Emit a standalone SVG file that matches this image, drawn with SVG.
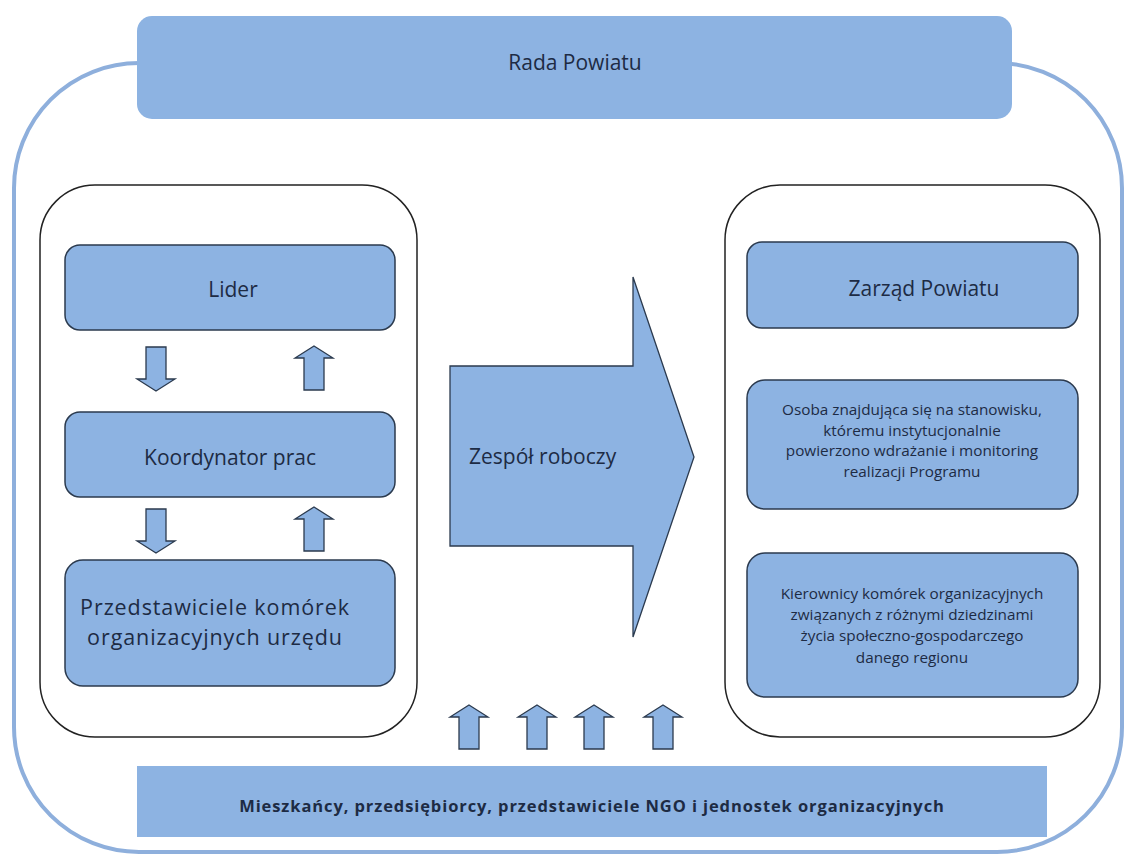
<svg xmlns="http://www.w3.org/2000/svg" width="1126" height="854" viewBox="0 0 1126 854">
  <style>
    .box { fill: #8db3e2; stroke: #2b3a4e; stroke-width: 1.5; }
    .flat { fill: #8db3e2; stroke: none; }
    .cont { fill: #ffffff; stroke: #222222; stroke-width: 1.5; }
    .outer { fill: none; stroke: #8eafdc; stroke-width: 4; }
    .arr { fill: #8db3e2; stroke: #2b3a4e; stroke-width: 1.3; stroke-linejoin: miter; }
    text { font-family: "Open Sans", "Liberation Sans", sans-serif; fill: #1d2b44; text-anchor: middle; }
    .big { font-size: 21px; }
    .przed { font-size: 21.5px; letter-spacing: 0.9px; }
    .mid { font-size: 21px; }
    .small { font-size: 15.3px; }
    .bold { font-size: 16.5px; font-weight: bold; letter-spacing: 0.9px; }
  </style>
  <defs>
    <path id="up" d="M0,0 L19,12 L10,12 L10,44 L-10,44 L-10,12 L-19,12 Z"/>
  </defs>
  <rect width="1126" height="854" fill="#ffffff"/>

  <g id="outer-frame">
    <rect class="outer" x="14" y="63" width="1108" height="789" rx="125" ry="125"/>
  </g>

  <g id="rada">
    <rect class="flat" x="137" y="16" width="875" height="103" rx="15"/>
    <text class="mid" x="575" y="70">Rada Powiatu</text>
  </g>

  <g id="left-container">
    <rect class="cont" x="40" y="185" width="377" height="552" rx="55"/>
  </g>

  <g id="lider">
    <rect class="box" x="65" y="245" width="330" height="85" rx="15"/>
    <text class="big" x="233" y="297">Lider</text>
  </g>

  <g id="koordynator">
    <rect class="box" x="65" y="412" width="330" height="85" rx="15"/>
    <text class="big" x="230" y="465">Koordynator prac</text>
  </g>

  <g id="przedstawiciele">
    <rect class="box" x="65" y="560" width="330" height="126" rx="18"/>
    <text class="przed"><tspan x="215" y="615">Przedstawiciele komórek</tspan><tspan x="215" y="645">organizacyjnych urzędu</tspan></text>
  </g>

  <g id="zespol">
    <polygon class="arr" points="450,366 633,366 633,277 694,457 633,637 633,546 450,546"/>
    <text class="big" x="469" y="464" style="text-anchor:start">Zespół roboczy</text>
  </g>

  <g id="right-container">
    <rect class="cont" x="725" y="185" width="375" height="552" rx="55"/>
  </g>

  <g id="zarzad">
    <rect class="box" x="747" y="242" width="331" height="86" rx="15"/>
    <text class="mid" x="924" y="296">Zarząd Powiatu</text>
  </g>

  <g id="osoba">
    <rect class="box" x="747" y="380" width="331" height="129" rx="18"/>
    <text class="small"><tspan x="912" y="415">Osoba znajdująca się na stanowisku,</tspan><tspan x="912" y="436">któremu instytucjonalnie</tspan><tspan x="912" y="456">powierzono wdrażanie i monitoring</tspan><tspan x="912" y="477">realizacji Programu</tspan></text>
  </g>

  <g id="kierownicy">
    <rect class="box" x="747" y="553" width="331" height="144" rx="18"/>
    <text class="small"><tspan x="912" y="599">Kierownicy komórek organizacyjnych</tspan><tspan x="912" y="620">związanych z różnymi dziedzinami</tspan><tspan x="912" y="641">życia społeczno-gospodarczego</tspan><tspan x="912" y="663">danego regionu</tspan></text>
  </g>

  <g id="mieszkancy">
    <rect class="flat" x="137" y="766" width="910" height="71"/>
    <text class="bold" x="592" y="812">Mieszkańcy, przedsiębiorcy, przedstawiciele NGO i jednostek organizacyjnych</text>
  </g>

  <g id="connectors">
    <use href="#up" class="arr" transform="translate(156,391) scale(1,-1)"/>
    <use href="#up" class="arr" transform="translate(314,346)"/>
    <use href="#up" class="arr" transform="translate(156,553) scale(1,-1)"/>
    <use href="#up" class="arr" transform="translate(314,507)"/>
    <use href="#up" class="arr" transform="translate(469,705)"/>
    <use href="#up" class="arr" transform="translate(537,705)"/>
    <use href="#up" class="arr" transform="translate(594,705)"/>
    <use href="#up" class="arr" transform="translate(663,705)"/>
  </g>
</svg>
